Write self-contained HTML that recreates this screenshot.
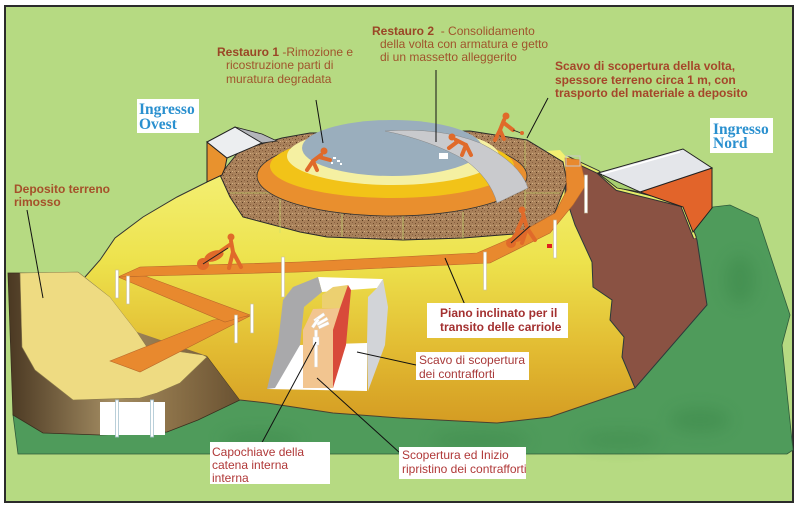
<!DOCTYPE html>
<html><head><meta charset="utf-8"><style>
html,body{margin:0;padding:0;background:#fff;}
svg{display:block;}
text{font-family:"Liberation Sans",Arial,sans-serif;}
.ser{font-family:"Liberation Serif","Times New Roman",serif;font-weight:bold;}
</style></head><body>
<svg width="800" height="506" viewBox="0 0 800 506" xmlns="http://www.w3.org/2000/svg">
<defs>
<linearGradient id="yel" x1="0" y1="175" x2="0" y2="425" gradientUnits="userSpaceOnUse">
<stop offset="0" stop-color="#f3ef72"/><stop offset="0.35" stop-color="#ede24c"/><stop offset="0.7" stop-color="#e2bb32"/><stop offset="1" stop-color="#d49b22"/>
</linearGradient>
<linearGradient id="brl" x1="8" y1="0" x2="240" y2="0" gradientUnits="userSpaceOnUse">
<stop offset="0" stop-color="#4a3822"/><stop offset="0.45" stop-color="#a38c62"/><stop offset="0.7" stop-color="#8c7249"/><stop offset="1" stop-color="#6a5232"/>
</linearGradient>
<pattern id="gr" width="6" height="6" patternUnits="userSpaceOnUse">
<rect width="6" height="6" fill="#a8805a"/><rect x="1" y="1" width="1" height="1" fill="#6e4a2a"/><rect x="4" y="3" width="1" height="1" fill="#cfae82"/><rect x="2" y="4" width="1" height="1" fill="#5a3a20"/><rect x="4" y="0" width="1" height="1" fill="#8a6040"/><rect x="0" y="3" width="1" height="1" fill="#c29a6c"/>
</pattern>
<filter id="bl"><feGaussianBlur stdDeviation="8"/></filter>
</defs>
<rect width="800" height="506" fill="#fff"/>
<rect x="5" y="6" width="788" height="496" fill="#b6da82" stroke="#2b2b2b" stroke-width="2"/>

<!-- green ground -->
<polygon points="13,415 18,454 787,454 793,450 782,345 790,315 758,218 730,205 713,207 690,230 600,300 240,380 13,400" fill="#4f9b5b" stroke="#2f5a3a" stroke-width="0.8"/>
<g filter="url(#bl)" opacity="0.3" fill="#2f7a3c">
<ellipse cx="260" cy="440" rx="40" ry="8"/><ellipse cx="480" cy="440" rx="50" ry="8"/><ellipse cx="700" cy="420" rx="30" ry="12"/><ellipse cx="740" cy="280" rx="15" ry="25"/><ellipse cx="620" cy="440" rx="40" ry="7"/>
</g>

<!-- left brown cliff -->
<polygon points="8,273 60,273 207,356 240,400 198,420 167,432 100,435 43,433 13,415" fill="url(#brl)" stroke="#3a2e1e" stroke-width="0.8"/>
<!-- yellow deposit -->
<polygon points="20,273 78,272 110,297 137,332 147,347 203,355 207,357 180,383 157,393 140,398 73,400 35,370 22,347" fill="#eedb82" stroke="#8a7a4a" stroke-width="0.6"/>
<!-- pipe -->
<rect x="100" y="402" width="65" height="33" fill="#fff"/>
<rect x="115.5" y="400" width="3" height="37" fill="#fff" stroke="#a8c4d0" stroke-width="0.8"/>
<rect x="150.5" y="400" width="3" height="37" fill="#fff" stroke="#a8c4d0" stroke-width="0.8"/>

<!-- yellow main -->
<polygon points="85,277 100,260 115,238 143,217 177,197 207,182 222,175 300,170 560,150 567,158 575,225 592,262 593,287 612,300 610,320 624,337 622,357 635,388 550,417 497,423 400,418 333,413 267,403 240,400 207,356 137,332 110,297" fill="url(#yel)"/>
<polyline points="85,277 100,260 115,238 143,217 177,197 207,182" fill="none" stroke="#333" stroke-width="1"/>
<polyline points="240,400 267,403 333,413 400,418 497,423 550,417 635,388" fill="none" stroke="#4a4030" stroke-width="1"/>

<!-- right brown cliff -->
<polygon points="567,158 598,173 617,190 683,207 697,240 707,305 635,388 622,357 624,337 610,320 612,300 593,287 592,262 575,225 565,195" fill="#8a5243" stroke="#2a3a3a" stroke-width="1"/>
<polyline points="566,157 598,172 617,189 682,205 695,238" fill="none" stroke="#333" stroke-width="4"/>
<polyline points="566,157 598,172 617,189 682,205 695,238" fill="none" stroke="#e4ee6a" stroke-width="2"/>

<!-- Nord building -->
<polygon points="640,192 712,168 712,208 693,232 683,207" fill="#e2642a" stroke="#222" stroke-width="1"/>
<polygon points="598,173 683,149 712,168 640,192" fill="#e4e6ea" stroke="#222" stroke-width="1"/>
<polygon points="598,173 640,192 617,188" fill="#a8d070" stroke="#222" stroke-width="0.8"/>
<line x1="602" y1="174" x2="680" y2="152" stroke="#fff" stroke-width="1.5"/>

<!-- gravel ring -->
<polygon points="220,175 240,150 282,138 310,133 470,131 527,140 563,162 567,182 553,217 540,232 463,238 403,240 327,237 300,232 243,217 230,197" fill="url(#gr)" stroke="#2a2a2a" stroke-width="1"/>
<g stroke="#c8e070" stroke-width="0.8" opacity="0.8">
<line x1="230" y1="193" x2="282" y2="193"/><line x1="280" y1="196" x2="280" y2="233"/><line x1="342" y1="212" x2="342" y2="237"/><line x1="403" y1="215" x2="403" y2="240"/><line x1="463" y1="212" x2="463" y2="238"/><line x1="525" y1="140" x2="525" y2="213"/><line x1="525" y1="193" x2="560" y2="193"/>
</g>

<!-- Ovest building -->
<polygon points="207,142 227,158 225,168 222,175 207,182" fill="#e8922e" stroke="#222" stroke-width="1"/>
<polygon points="207,142 235,127 262,143 227,158" fill="#eceef0" stroke="#222" stroke-width="1"/>
<polygon points="235,127 262,134 277,141 262,143" fill="#b4b6ba" stroke="#222" stroke-width="0.8"/>

<!-- dome layers -->
<ellipse cx="392" cy="176" rx="135" ry="40" fill="#e98f2e" stroke="#333" stroke-width="0.8"/>
<ellipse cx="392" cy="166" rx="122" ry="32" fill="#f2c318"/>
<ellipse cx="393" cy="156" rx="106" ry="29" fill="#f5f0a2"/>
<ellipse cx="392" cy="148" rx="90" ry="28" fill="#9aaebd"/>
<path d="M385,131 Q440,127 480,143 Q520,163 528,188 L497,203 Q490,178 465,160 Q430,140 385,131 Z" fill="#c9cacd" stroke="#888" stroke-width="0.5"/>
<rect x="439" y="153" width="9" height="6" fill="#fff"/>
<g fill="#fff"><rect x="333" y="157" width="3" height="2"/><rect x="337" y="160" width="3" height="2"/><rect x="331" y="162" width="2" height="2"/><rect x="340" y="163" width="2" height="2"/></g>

<!-- ramp -->
<g fill="#e8892e" stroke="#b8682a" stroke-width="0.6">
<polygon points="110,361 213,320 250,316 140,372"/>
<polygon points="118,277 145,276 250,315 225,322"/>
<polygon points="118,277 140,267 300,262 477,253 507,240 555,213 567,190 565,158 580,160 586,185 573,205 550,233 490,263 300,272 147,276"/>
</g>
<rect x="566" y="156" width="14" height="10" fill="none" stroke="#c8c8c8" stroke-width="1"/>

<!-- posts -->
<g fill="#fff" stroke="#c8c0a0" stroke-width="0.6">
<rect x="115.5" y="270" width="3" height="28"/><rect x="126.5" y="276" width="3" height="28"/><rect x="281.5" y="257" width="3" height="40"/><rect x="234.5" y="315" width="3" height="28"/><rect x="250.5" y="304" width="3" height="29"/><rect x="483.5" y="252" width="3" height="38"/><rect x="553.5" y="220" width="3" height="38"/><rect x="584.5" y="175" width="3" height="38"/>
</g>

<!-- excavation -->
<polygon points="267,389 300,345 367,343 367,391" fill="#fff"/>
<polygon points="318,277 383,279 377,288 322,292" fill="#fff"/>
<polygon points="318,277 293,287 283,300 278,343 267,389 275,388 300,345 304,307 322,292" fill="#a9a9ab"/>
<polygon points="383,279 388,307 385,345 368,391 367,343 368,297 377,288" fill="#d2d4d8"/>
<polygon points="322,295 333,287 348,285 342,308 322,308" fill="#ecd070"/>
<polygon points="303,330 313,309 340,308 333,330 333,388 303,388" fill="#f2c590"/>
<polygon points="340,308 348,285 351,290 346,345 333,388 333,330" fill="#d84a3a"/>
<g fill="#fff" stroke="#ddd" stroke-width="0.4">
<rect x="313" y="316" width="12" height="3" transform="rotate(-35 319 317)"/><rect x="316" y="320" width="12" height="3" transform="rotate(-30 322 321)"/><rect x="318" y="324" width="11" height="3" transform="rotate(-25 323 325)"/><rect x="310" y="322" width="10" height="3" transform="rotate(-55 315 323)"/>
<rect x="314.5" y="330" width="3" height="37"/><rect x="313" y="337" width="6" height="8"/>
</g>

<!-- workers -->
<g stroke="#e06a2a" stroke-width="4" stroke-linecap="round" stroke-linejoin="round" fill="none">
<path d="M321,155 L313,161 M313,161 L307,170 M313,161 L317,170 M319,157 L330,160"/>
<path d="M456,140 L466,145 M466,145 L462,155 M466,145 L471,155 M457,142 L449,148"/>
<path d="M504,120 L500,130 M500,130 L495,140 M500,130 L504,139 M504,123 L513,130"/>
<path d="M231,241 L233,252 M233,252 L229,268 M233,252 L241,267 M231,244 L221,251"/>
<path d="M523,214 L527,228 M527,228 L522,243 M527,228 L535,240 M523,218 L517,231"/>
</g>
<g fill="#e06a2a">
<circle cx="324" cy="151" r="3.5"/><circle cx="452" cy="137" r="3.5"/><circle cx="506" cy="116" r="3.5"/><circle cx="231" cy="237" r="3.5"/><circle cx="522" cy="210" r="3.5"/>
<ellipse cx="214" cy="256" rx="10" ry="5" transform="rotate(-20 214 256)"/><circle cx="203" cy="264" r="6"/>
<ellipse cx="519" cy="236" rx="8" ry="5" transform="rotate(-30 519 236)"/><circle cx="511" cy="243" r="5"/>
</g>
<line x1="203" y1="264" x2="228" y2="248" stroke="#222" stroke-width="1"/>
<line x1="511" y1="243" x2="530" y2="226" stroke="#222" stroke-width="1"/>
<line x1="513" y1="130" x2="521" y2="133" stroke="#222" stroke-width="0.8"/>
<circle cx="522" cy="133" r="2" fill="#e06a2a"/>
<rect x="547" y="244" width="5" height="4" fill="#e02020"/>

<!-- leaders -->
<g stroke="#111" stroke-width="1" fill="none">
<line x1="316" y1="100" x2="323" y2="143"/>
<line x1="436" y1="70" x2="436" y2="142"/>
<line x1="548" y1="98" x2="527" y2="138"/>
<line x1="27" y1="210" x2="43" y2="298"/>
<line x1="445" y1="258" x2="465" y2="305"/>
<line x1="357" y1="352" x2="416" y2="365"/>
<line x1="316" y1="342" x2="258" y2="450"/>
<line x1="317" y1="378" x2="400" y2="453"/>
</g>

<!-- labels -->
<rect x="137" y="99" width="62" height="34" fill="#fff"/>
<text class="ser" x="139" y="114" font-size="15.5" fill="#2a90cf">Ingresso</text>
<text class="ser" x="139" y="129" font-size="15.5" fill="#2a90cf">Ovest</text>
<rect x="710" y="118" width="63" height="35" fill="#fff"/>
<text class="ser" x="713" y="134" font-size="15.5" fill="#2a90cf">Ingresso</text>
<text class="ser" x="713" y="148" font-size="15.5" fill="#2a90cf">Nord</text>

<g font-size="12" fill="#a0542c">
<text x="217" y="56"><tspan font-weight="bold" fill="#9a4626">Restauro 1</tspan> -Rimozione e</text>
<text x="226" y="69">ricostruzione parti di</text>
<text x="226" y="83">muratura degradata</text>
<text x="372" y="35" xml:space="preserve"><tspan font-weight="bold" fill="#9a4626">Restauro 2</tspan>  - Consolidamento</text>
<text x="380" y="48">della volta con armatura e getto</text>
<text x="380" y="61">di un massetto alleggerito</text>
</g>
<g font-size="12" font-weight="bold" fill="#a5462a">
<text x="555" y="70">Scavo di scopertura della volta,</text>
<text x="555" y="84">spessore terreno circa 1 m, con</text>
<text x="555" y="97">trasporto del materiale a deposito</text>
<text x="14" y="193" fill="#a5502a">Deposito terreno</text>
<text x="14" y="206" fill="#a5502a">rimosso</text>
</g>

<rect x="427" y="303" width="141" height="35" fill="#fff"/>
<text x="440" y="317" font-size="12" font-weight="bold" fill="#a33030">Piano inclinato per il</text>
<text x="440" y="331" font-size="12" font-weight="bold" fill="#a33030">transito delle carriole</text>

<rect x="416" y="352" width="113" height="28" fill="#fff"/>
<text x="419" y="364" font-size="12" fill="#a83a3a">Scavo di scopertura</text>
<text x="419" y="378" font-size="12" fill="#a83a3a">dei contrafforti</text>

<rect x="210" y="442" width="120" height="42" fill="#fff"/>
<text x="212" y="456" font-size="12" fill="#b03838">Capochiave della</text>
<text x="212" y="469" font-size="12" fill="#b03838">catena interna</text>
<text x="212" y="482" font-size="12" fill="#b03838">interna</text>

<rect x="399" y="447" width="127" height="32" fill="#fff"/>
<text x="402" y="459" font-size="12" fill="#b03838">Scopertura ed Inizio</text>
<text x="402" y="473" font-size="12" fill="#b03838">ripristino dei contrafforti</text>
</svg>
</body></html>
